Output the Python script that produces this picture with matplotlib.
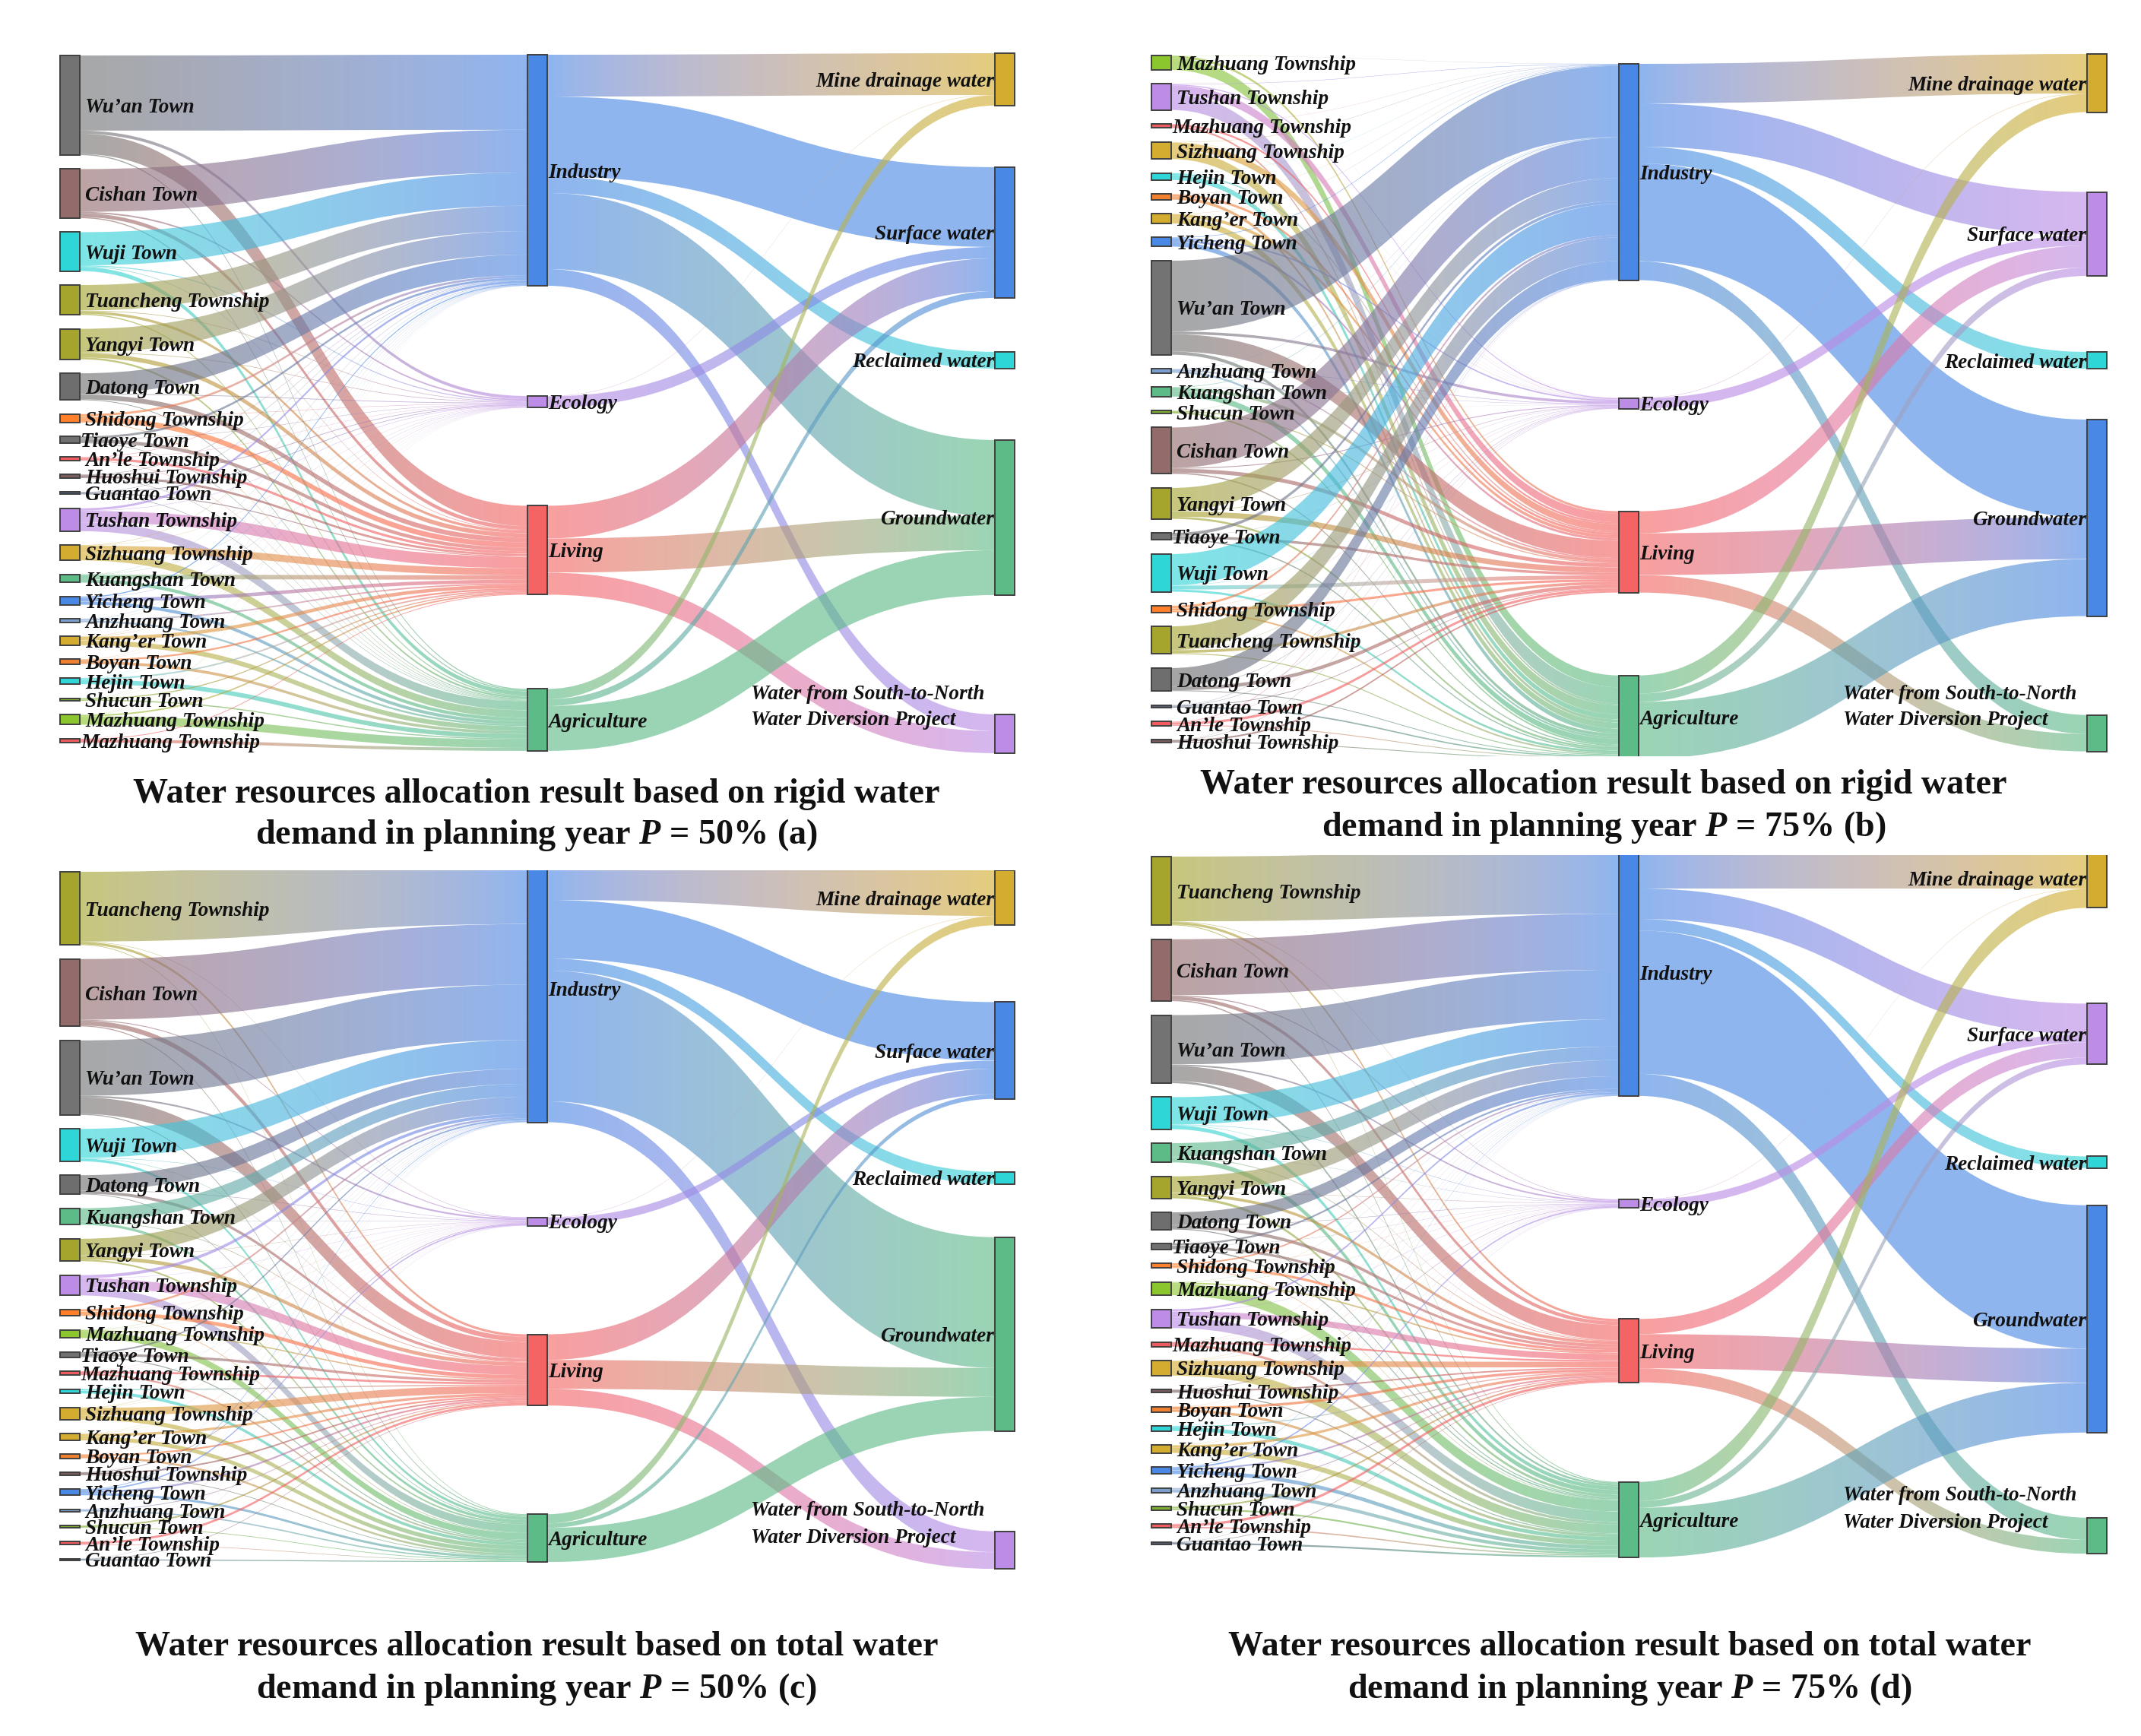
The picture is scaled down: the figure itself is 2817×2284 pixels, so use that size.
import matplotlib
matplotlib.use('Agg')
import matplotlib.pyplot as plt
from matplotlib.colors import to_rgb
from matplotlib.patches import Rectangle
from matplotlib.path import Path
import numpy as np
import pandas as pd

plt.rcParams['font.family'] = ['Liberation Serif', 'DejaVu Serif']
plt.rcParams['mathtext.fontset'] = 'custom'
plt.rcParams['mathtext.rm'] = 'Liberation Serif:bold'
plt.rcParams['mathtext.it'] = 'Liberation Serif:italic:bold'

SECTORS = ['Industry', 'Ecology', 'Living', 'Agriculture']
SOURCES = ['Mine drainage water', 'Surface water', 'Reclaimed water', 'Groundwater',
           'Water from South-to-North\nWater Diversion Project']

# the red Mazhuang node is a second town with the same name, * is stripped for the label
TOWN_COLORS = {
    "Wu'an Town": '#737373', 'Cishan Town': '#946b6b', 'Wuji Town': '#2fd6d8',
    'Tuancheng Township': '#a5a52e', 'Yangyi Town': '#a5a52e', 'Datong Town': '#6e6e6e',
    'Shidong Township': '#ff7f2a', 'Tiaoye Town': '#707070', "An'le Township": '#f25c60',
    'Huoshui Township': '#7a5c5c', 'Guantao Town': '#4f5f78', 'Tushan Township': '#bc8ce6',
    'Sizhuang Township': '#d4ad30', 'Kuangshan Town': '#5dbb87', 'Yicheng Town': '#4a88e5',
    'Anzhuang Town': '#7ba0d0', "Kang'er Town": '#d4ad30', 'Boyan Town': '#f08030',
    'Hejin Town': '#2fd6d8', 'Shucun Town': '#7cae30', 'Mazhuang Township': '#8cc62e',
    'Mazhuang Township*': '#ee5c60',
}
SECTOR_COLORS = ['#4a88e5', '#bc8ce6', '#f56464', '#5dbb87']
# rigid demand (a, c) and total demand (b, d) swap the source colours
SOURCE_COLORS_AC = ['#d4ad30', '#4a88e5', '#2fd6d8', '#5dbb87', '#bc8ce6']
SOURCE_COLORS_BD = ['#d4ad30', '#bc8ce6', '#2fd6d8', '#4a88e5', '#5dbb87']

# town -> Industry, Ecology, Living, Agriculture
a_towns = ["Wu'an Town", 'Cishan Town', 'Wuji Town', 'Tuancheng Township', 'Yangyi Town',
           'Datong Town', 'Shidong Township', 'Tiaoye Town', "An'le Township", 'Huoshui Township',
           'Guantao Town', 'Tushan Township', 'Sizhuang Township', 'Kuangshan Town', 'Yicheng Town',
           'Anzhuang Town', "Kang'er Town", 'Boyan Town', 'Hejin Town', 'Shucun Town',
           'Mazhuang Township', 'Mazhuang Township*']
a_town_flows = [[102, 2.5, 23, 1.5], [58, 1.2, 4.3, 1.5], [45, 0.8, 0.7, 5.5], [34.5, 0.5, 3, 1.5],
                [32, 0.5, 5, 2.5], [28, 0.5, 5.5, 1], [3, 0.3, 6, 0.7], [3, 0.3, 4, 0.7],
                [0.5, 0.2, 2.8, 0.5], [0.5, 0.5, 2.5, 0.5], [0.4, 0.5, 1, 0.6], [3, 0.3, 13, 11.7],
                [0.5, 0.2, 8, 10], [0.3, 0.2, 5, 4.5], [1.5, 0.2, 4, 4.3], [0.3, 0.1, 1.6, 2.5],
                [0.3, 0.2, 4, 6.5], [0.2, 0.1, 2, 3.7], [0.2, 0.1, 1.7, 6], [0.2, 0.1, 1.2, 1.5],
                [0.2, 0.1, 1.7, 11], [0.1, 0.1, 0.8, 4]]

b_towns = ['Mazhuang Township', 'Tushan Township', 'Mazhuang Township*', 'Sizhuang Township',
           'Hejin Town', 'Boyan Town', "Kang'er Town", 'Yicheng Town', "Wu'an Town", 'Anzhuang Town',
           'Kuangshan Town', 'Shucun Town', 'Cishan Town', 'Yangyi Town', 'Tiaoye Town', 'Wuji Town',
           'Shidong Township', 'Tuancheng Township', 'Datong Town', 'Guantao Town', "An'le Township",
           'Huoshui Township']
b_town_flows = [[0.2, 0.1, 3, 14.5], [0.5, 1, 11, 19.5], [0.2, 0.1, 2.5, 2.2], [0.4, 0.2, 9, 11.5],
                [0.2, 0.1, 2, 6.2], [0.2, 0.1, 3, 3.7], [0.3, 0.2, 4, 7.5], [0.7, 1.3, 3, 6],
                [93, 2.5, 22, 4], [0.3, 0.5, 1.8, 2.4], [0.6, 0.3, 4, 7], [0.2, 0.1, 1.2, 2],
                [53, 0.8, 5, 1.5], [30, 0.5, 7, 2.5], [4, 0.2, 3.3, 1.5], [41, 0.3, 5, 2.7],
                [3, 0.2, 3, 2], [31, 0.3, 3.5, 1.2], [24, 0.4, 4.5, 1], [0.3, 0.3, 0.8, 1.6],
                [0.6, 0.2, 3.2, 1], [0.2, 0.3, 2, 1]]

c_towns = ['Tuancheng Township', 'Cishan Town', "Wu'an Town", 'Wuji Town', 'Datong Town',
           'Kuangshan Town', 'Yangyi Town', 'Tushan Township', 'Shidong Township', 'Mazhuang Township',
           'Tiaoye Town', 'Mazhuang Township*', 'Hejin Town', 'Sizhuang Township', "Kang'er Town",
           'Boyan Town', 'Huoshui Township', 'Yicheng Town', 'Anzhuang Town', 'Shucun Town',
           "An'le Township", 'Guantao Town']
c_town_flows = [[92, 0.5, 3, 1], [80, 1, 6, 1.5], [73, 2, 20, 1.5], [38, 0.5, 0.6, 4], [20, 0.5, 3.5, 1],
                [17, 0.4, 0.8, 4], [22, 0.4, 4.5, 2.5], [4, 0.3, 11, 12], [2.5, 0.2, 4.5, 1],
                [0.3, 0.2, 1.5, 10], [2, 0.2, 3, 1.5], [0.2, 0.1, 2.5, 2.5], [0.2, 0.1, 1.5, 4.5],
                [0.4, 0.2, 9, 6.5], [0.2, 0.2, 3, 6], [0.2, 0.1, 2, 3], [0.2, 0.8, 1.8, 1],
                [0.8, 1.6, 2.2, 3.5], [0.2, 0.1, 0.9, 2], [0.1, 0.1, 1.8, 1], [0.2, 0.1, 2.7, 0.8],
                [0.1, 0.2, 0.6, 1.5]]

d_towns = ['Tuancheng Township', 'Cishan Town', "Wu'an Town", 'Wuji Town', 'Kuangshan Town',
           'Yangyi Town', 'Datong Town', 'Tiaoye Town', 'Shidong Township', 'Mazhuang Township',
           'Tushan Township', 'Mazhuang Township*', 'Sizhuang Township', 'Huoshui Township',
           'Boyan Town', 'Hejin Town', "Kang'er Town", 'Yicheng Town', 'Anzhuang Town', 'Shucun Town',
           "An'le Township", 'Guantao Town']
d_town_flows = [[88, 0.5, 3.5, 1], [76, 1, 5, 1.5], [67, 1.5, 21, 2.5], [37, 0.5, 0.6, 4.5], [18.5, 0.3, 1, 5.5],
                [22, 0.4, 4, 3], [17, 0.4, 4.5, 1.2], [2.5, 0.2, 3.5, 1.5], [2, 0.2, 3.5, 0.7],
                [0.3, 0.2, 2, 13.5], [2.5, 0.3, 8.5, 12.5], [0.2, 0.1, 2.5, 3], [0.3, 0.2, 8, 10.5],
                [0.2, 0.5, 2, 1.2], [0.2, 0.1, 3.5, 3], [0.2, 0.1, 1.5, 4.5], [0.2, 0.2, 3.5, 6],
                [0.5, 1.4, 2.3, 4.5], [0.2, 0.1, 1.2, 4], [0.1, 0.1, 2.2, 2], [0.2, 0.1, 3.6, 1.5],
                [0.1, 0.2, 0.7, 2]]

# sector -> mine drainage, surface, reclaimed, groundwater, south-to-north
a_source_flows = [[55, 105, 22, 100, 22], [0.4, 15, 0, 0, 0], [0, 43, 0, 45, 29], [13.5, 9, 0, 59, 0]]
b_source_flows = [[52, 57, 22, 128.6, 25], [0.5, 13.5, 0, 0, 0], [0, 29, 0, 55, 23], [24, 11, 0, 75, 0]]
c_source_flows = [[60, 77, 16, 172, 27.5], [0.4, 10.6, 0, 0, 0], [0, 33.7, 0, 38, 22], [12, 6, 0, 45, 0]]
d_source_flows = [[52, 40, 15.3, 188.6, 29], [0.4, 11, 0, 0, 0], [0, 20, 0, 45, 18.4], [25, 9, 0, 65.5, 0]]

# layout, in pixels of the 2817x2284 canvas
NODE_W = 26
LAYOUTS = {
    'a': dict(x=(79, 694, 1309), left_span=(73, 977), mid_top=72, mid_gaps=(145, 129, 124),
              right_top=70, right_gaps=(81, 71, 94, 157), note_y=(910, 945), title_x=706, title_y=(1045, 1099),
              crop=None),
    'b': dict(x=(1515, 2130, 2746), left_span=(73, 977), mid_top=84, mid_gaps=(155, 135, 109),
              right_top=71, right_gaps=(105, 100, 67, 130), note_y=(910, 945), title_x=2110, title_y=(1033, 1088),
              crop=(995, 1012)),
    'c': dict(x=(79, 694, 1309), left_span=(1147, 2053), mid_top=1124, mid_gaps=(125, 143, 143),
              right_top=1145, right_gaps=(101, 96, 70, 132), note_y=(1985, 2020), title_x=706, title_y=(2167, 2222),
              crop=(1118, 1144.5)),
    'd': dict(x=(1515, 2130, 2746), left_span=(1127, 2032), mid_top=1117, mid_gaps=(136, 146, 131),
              right_top=1117, right_gaps=(126, 121, 49, 112), note_y=(1965, 2000), title_x=2144, title_y=(2167, 2222),
              crop=(1108, 1124.5)),
}
RIBBON_ALPHA = 0.62
LABEL_SIZE = 19.6
LABEL_DY = 3
TITLE_SIZE = 33.2
TIGHT_LABELS = ['Tiaoye Town', 'Mazhuang Township*']

XYZ_FROM_RGB = np.array([[0.4124, 0.3576, 0.1805], [0.2126, 0.7152, 0.0722], [0.0193, 0.1192, 0.9505]])
WHITE = np.array([0.9505, 1.0, 1.089])


def rgb_to_lab(color):
    rgb = np.array(to_rgb(color))
    linear = np.where(rgb > 0.04045, ((rgb + 0.055) / 1.055) ** 2.4, rgb / 12.92)
    t = XYZ_FROM_RGB @ linear / WHITE
    f = np.where(t > 0.008856, np.cbrt(t), 7.787 * t + 16 / 116)
    return np.array([116 * f[1] - 16, 500 * (f[0] - f[1]), 200 * (f[1] - f[2])])


def lab_to_rgb(lab):
    fy = (lab[:, 0] + 16) / 116
    f = np.stack([fy + lab[:, 1] / 500, fy, fy - lab[:, 2] / 200], axis=1)
    t = np.where(f > 0.2069, f ** 3, (f - 16 / 116) / 7.787) * WHITE
    linear = np.clip(t @ np.linalg.inv(XYZ_FROM_RGB).T, 0, 1)
    return np.where(linear > 0.0031308, 1.055 * linear ** (1 / 2.4) - 0.055, 12.92 * linear)


def draw_ribbon(ax, x0, x1, y0, y1, h, c0, c1):
    # same bezier as the usual sankey link, coloured from source to target in Lab
    xm = (x0 + x1) / 2
    verts = [(x0, y0), (xm, y0), (xm, y1), (x1, y1), (x1, y1 + h), (xm, y1 + h), (xm, y0 + h), (x0, y0 + h), (x0, y0)]
    codes = [Path.MOVETO, Path.CURVE4, Path.CURVE4, Path.CURVE4, Path.LINETO,
             Path.CURVE4, Path.CURVE4, Path.CURVE4, Path.CLOSEPOLY]
    grad = np.full((2, 64, 4), RIBBON_ALPHA)
    grad[:, :, :3] = lab_to_rgb(np.linspace(rgb_to_lab(c0), rgb_to_lab(c1), 64))
    im = ax.imshow(grad, extent=(x0, x1, max(y0, y1) + h, min(y0, y1)), aspect='auto',
                   interpolation='bilinear', zorder=1)
    im.set_clip_path(Path(verts, codes), transform=ax.transData)


def draw_node(ax, x, y, h, color):
    ax.add_patch(Rectangle((x, y), NODE_W, h, facecolor=color, edgecolor='#404040', linewidth=1.4, zorder=3))


def stack_tops(top, heights, gaps):
    tops = [top]
    for h, gap in zip(heights[:-1], gaps):
        tops.append(tops[-1] + h + gap)
    return tops


def draw_panel(ax, towns, town_flows, source_flows, source_colors, layout):
    town_df = pd.DataFrame(town_flows, index=range(len(towns)), columns=SECTORS)
    source_df = pd.DataFrame(source_flows, index=SECTORS, columns=SOURCES)

    # sector nodes must balance, the town side was read less exactly than the source side
    sector_h = source_df.sum(axis=1)
    town_df = town_df * (sector_h / town_df.sum(axis=0))
    town_h = town_df.sum(axis=1).values
    source_h = source_df.sum(axis=0).values

    x_left, x_mid, x_right = layout['x']
    span_top, span_bottom = layout['left_span']
    gap = (span_bottom - span_top - town_h.sum()) / (len(towns) - 1)
    town_y = stack_tops(span_top, town_h, [gap] * len(towns))
    sector_y = stack_tops(layout['mid_top'], sector_h.values, layout['mid_gaps'])
    source_y = stack_tops(layout['right_top'], source_h, layout['right_gaps'])

    # towns to sectors
    sector_in = list(sector_y)
    for i, town in enumerate(towns):
        y = town_y[i]
        for j, sector in enumerate(SECTORS):
            v = town_df.iloc[i, j]
            draw_ribbon(ax, x_left + NODE_W, x_mid, y, sector_in[j], v, TOWN_COLORS[town], SECTOR_COLORS[j])
            y += v
            sector_in[j] += v

    # sectors to water sources
    source_in = list(source_y)
    for j, sector in enumerate(SECTORS):
        y = sector_y[j]
        for k, source in enumerate(SOURCES):
            v = source_df.iloc[j, k]
            if v > 0:
                draw_ribbon(ax, x_mid + NODE_W, x_right, y, source_in[k], v, SECTOR_COLORS[j], source_colors[k])
                y += v
                source_in[k] += v

    for i, town in enumerate(towns):
        draw_node(ax, x_left, town_y[i], town_h[i], TOWN_COLORS[town])
        label_x = x_left + NODE_W + (1 if town in TIGHT_LABELS else 7)
        ax.text(label_x, town_y[i] + town_h[i] / 2 + LABEL_DY, town.rstrip('*').replace("'", '\u2019'),
                ha='left', va='center', fontsize=LABEL_SIZE, fontweight='bold', fontstyle='italic',
                color='#111111', zorder=5)
    for j, sector in enumerate(SECTORS):
        draw_node(ax, x_mid, sector_y[j], sector_h.iloc[j], SECTOR_COLORS[j])
        ax.text(x_mid + NODE_W + 1, sector_y[j] + sector_h.iloc[j] / 2 + LABEL_DY, sector, ha='left', va='center',
                fontsize=LABEL_SIZE, fontweight='bold', fontstyle='italic', color='#111111', zorder=5)
    for k, source in enumerate(SOURCES):
        draw_node(ax, x_right, source_y[k], source_h[k], source_colors[k])
        if '\n' in source:
            for line, y in zip(source.split('\n'), layout['note_y']):
                ax.text(x_right - 321, y + LABEL_DY, line, ha='left', va='center', fontsize=LABEL_SIZE,
                        fontweight='bold', fontstyle='italic', color='#111111', zorder=5)
        else:
            ax.text(x_right - 1, source_y[k] + source_h[k] / 2 + LABEL_DY, source, ha='right', va='center',
                    fontsize=LABEL_SIZE, fontweight='bold', fontstyle='italic', color='#111111', zorder=5)

    # the original panels are cropped by the page layout
    if layout['crop']:
        y0, y1 = layout['crop']
        ax.add_patch(Rectangle((x_left - 10, y0), x_right + NODE_W - x_left + 20, y1 - y0,
                               facecolor='white', edgecolor='none', zorder=4))


fig = plt.figure(figsize=(28.17, 22.84), dpi=100)
ax = fig.add_axes([0, 0, 1, 1])
ax.set_xlim(0, 2817)
ax.set_ylim(2284, 0)
ax.autoscale(False)
ax.axis('off')

draw_panel(ax, a_towns, a_town_flows, a_source_flows, SOURCE_COLORS_AC, LAYOUTS['a'])
draw_panel(ax, b_towns, b_town_flows, b_source_flows, SOURCE_COLORS_BD, LAYOUTS['b'])
draw_panel(ax, c_towns, c_town_flows, c_source_flows, SOURCE_COLORS_AC, LAYOUTS['c'])
draw_panel(ax, d_towns, d_town_flows, d_source_flows, SOURCE_COLORS_BD, LAYOUTS['d'])

titles = {
    'a': ('Water resources allocation result based on rigid water', r'demand in planning year $\mathit{P}$ = 50% (a)'),
    'b': ('Water resources allocation result based on rigid water', r'demand in planning year $\mathit{P}$ = 75% (b)'),
    'c': ('Water resources allocation result based on total water', r'demand in planning year $\mathit{P}$ = 50% $\mathit{(}$c)'),
    'd': ('Water resources allocation result based on total water', r'demand in planning year $\mathit{P}$ = 75% (d)'),
}
for key, lines in titles.items():
    layout = LAYOUTS[key]
    for line, y in zip(lines, layout['title_y']):
        ax.text(layout['title_x'], y, line, ha='center', va='center', fontsize=TITLE_SIZE,
                fontweight='bold', color='#111111', zorder=6)

plt.savefig('out.png', dpi=100)
